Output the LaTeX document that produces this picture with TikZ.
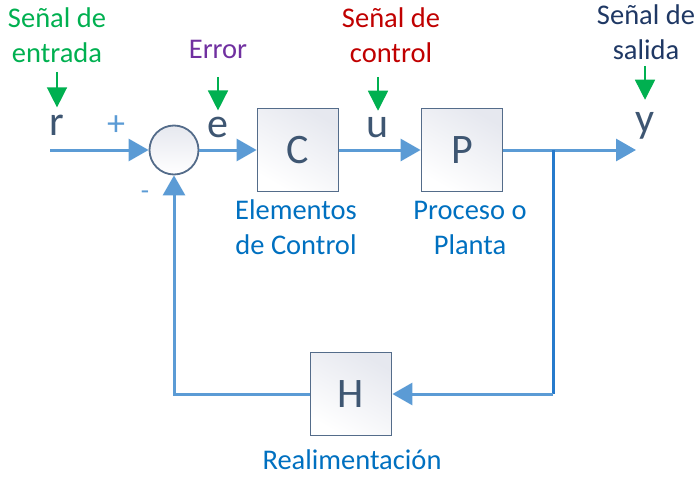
\documentclass[tikz,border=0pt]{standalone}
\usepackage{fontspec}
\setmainfont{Carlito}
\usetikzlibrary{arrows.meta}

\definecolor{lineblue}{RGB}{91,155,213}
\definecolor{branchblue}{RGB}{38,122,204}
\definecolor{boxedge}{RGB}{84,108,138}
\definecolor{boxshade}{RGB}{230,232,239}
\definecolor{letter}{RGB}{62,86,114}
\definecolor{sigGreen}{RGB}{0,176,80}
\definecolor{sigPurple}{RGB}{112,48,160}
\definecolor{sigRed}{RGB}{192,0,0}
\definecolor{sigNavy}{RGB}{31,56,100}
\definecolor{capblue}{RGB}{0,112,192}

\begin{document}
\begin{tikzpicture}[
  x=1pt, y=-1pt,
  block/.style={
    draw=boxedge, line width=1.8pt, top color=boxshade, bottom color=white,
    shading angle=-30, minimum width=81pt, minimum height=83pt, inner sep=0pt,
    font=\fontsize{42}{42}\selectfont, text=letter
  },
  sumnode/.style={
    circle, draw=boxedge, line width=1.8pt, top color=boxshade, bottom color=white,
    minimum size=49pt, inner sep=0pt
  },
  wire/.style={line width=3pt, lineblue},
  flow/.style={wire, -{Triangle[length=20pt, width=22pt]}},
  sig/.style={font=\fontsize{42}{42}\selectfont, text=letter, inner sep=0pt, anchor=base},
  tag/.style={font=\fontsize{28.5}{35}\selectfont, align=center, inner sep=0pt, anchor=south},
  pointer/.style={line width=1.5pt, sigGreen, -{Triangle[length=20pt, width=20pt]}}
]
\useasboundingbox (0,0) rectangle (700,476);

% Blocks of the loop
\node[sumnode] (sum)  at (174,150) {};
\node[block]   (ctrl) at (298,150) {C};
\node[block]   (plant) at (462,150) {P};
\node[block]   (fb)   at (351,394) {H};

\coordinate (in)  at (50,150);
\coordinate (out) at (636,150);
\coordinate (br)  at (553,150);
\coordinate (bc)  at (553,394);

% Signals
\node[sig] (r) at (57,135) {r};
\node[sig] (e) at (218,137) {e};
\node[sig] (u) at (378,137) {u};
\node[sig] (y) at (645,132) {y};
\node[font=\fontsize{36}{36}\selectfont, text=lineblue, inner sep=0pt] (plus) at (116,126) {+};
\node[font=\fontsize{27}{27}\selectfont, text=lineblue, inner sep=0pt] (minus) at (145,195) {-};

% Forward path
\draw[flow] (in) -- (sum);
\draw[flow] (sum) -- (ctrl);
\draw[flow] (ctrl) -- (plant);
\draw[flow] (plant) -- (out);

% Feedback path
\draw[line width=3pt, branchblue] (br) -- (bc);
\draw[flow] (bc) -- (fb);
\draw[flow] (fb.west) -| (sum.south);

% Signal names
\node[tag, text=sigGreen]  (intag)   at (57,63)  {Señal de\\entrada};
\node[tag, text=sigPurple] (errtag)  at (218,59) {Error};
\node[tag, text=sigRed]    (ctrltag) at (391,63) {Señal de\\control};
\node[tag, text=sigNavy]   (outtag)  at (646,60) {Señal de\\salida};

\draw[pointer, shorten <=9pt,  shorten >=7pt] (intag.south -| r) -- (r.north);
\draw[pointer, shorten <=18pt, shorten >=6pt] (errtag) -- (e.north);
\draw[pointer, shorten <=14pt, shorten >=6pt] (ctrltag.south -| u) -- (u.north);
\draw[pointer, shorten <=6pt,  shorten >=12pt] (outtag.south -| y) -- (y.north);

% Block captions
\node[tag, text=capblue] (ctrlcap)  at (296,255) {Elementos\\de Control};
\node[tag, text=capblue] (plantcap) at (470,255) {Proceso o\\Planta};
\node[tag, text=capblue] (fbcap)    at (352,470) {Realimentación};

\end{tikzpicture}
\end{document}
